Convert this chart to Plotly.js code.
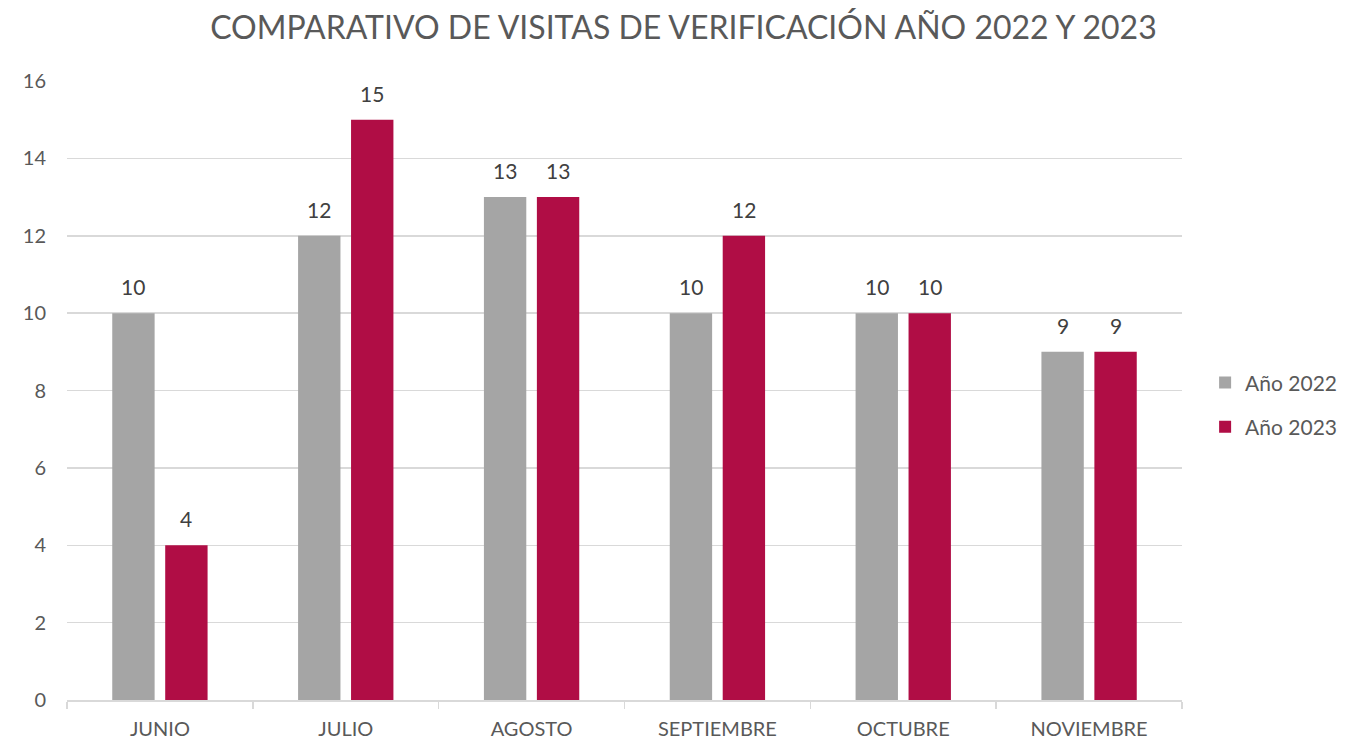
<!DOCTYPE html>
<html><head><meta charset="utf-8">
<script src="https://cdn.plot.ly/plotly-3.0.1.min.js"></script>
<style>html,body{margin:0;padding:0;background:#fff;}#chart{width:1348px;height:744px;}</style>
</head><body><div id="chart"></div>
<script>
const categories = ["JUNIO","JULIO","AGOSTO","SEPTIEMBRE","OCTUBRE","NOVIEMBRE"];
const values2022 = [10,12,13,10,10,9];
const values2023 = [4,15,13,12,10,9];
const seriesNames = ["Año 2022","Año 2023"];
const colors = ["#A5A5A5","#B00D45"];
const FONT = "Lato, 'Open Sans', sans-serif";
const mk = (i, y) => ({
  type:"bar", name:seriesNames[i], x:categories, y:y, legendgroup:"g"+i,
  marker:{color:colors[i]}, hoverinfo:"x+y+name"
});
const data = [mk(0, values2022), mk(1, values2023)];
const annotations = [];
[values2022, values2023].forEach((vals, i) => {
  vals.forEach((v, j) => {
    annotations.push({xref:"x", yref:"y", x:categories[j], y:v, text:String(v), showarrow:false,
      xshift: i === 0 ? -26.5 : 26.5, yshift:12, yanchor:"bottom",
      font:{family:FONT, size:21, color:"#404040"}});
  });
});
const layout = {
  width:1348, height:744,
  paper_bgcolor:"#ffffff", plot_bgcolor:"rgba(0,0,0,0)",
  margin:{l:67, r:166, t:81, b:44},
  title:{text:"COMPARATIVO DE VISITAS DE VERIFICACIÓN AÑO 2022 Y 2023", x:0.507, xanchor:"center", y:0.963, yanchor:"middle",
    font:{family:FONT, size:32, color:"#595959"}},
  barmode:"group", bargap:0.43, bargroupgap:0.2,
  xaxis:{type:"category", showgrid:false, showline:true, linecolor:"#d9d9d9", linewidth:1.5,
    ticks:"outside", tickson:"boundaries", ticklen:7, tickcolor:"#d9d9d9", tickwidth:1.5,
    ticklabelstandoff:10, automargin:false,
    tickfont:{family:FONT,size:20,color:"#595959"}, fixedrange:true},
  yaxis:{range:[0,16], dtick:2, showgrid:true, gridcolor:"#d9d9d9", gridwidth:1.5, zeroline:false,
    showline:false, ticks:"", ticklabelstandoff:20, automargin:false,
    tickfont:{family:FONT,size:20,color:"#595959"}, fixedrange:true},
  legend:{xref:"container", yref:"container", x:0.894, xanchor:"left", y:0.456, yanchor:"middle",
    font:{family:FONT,size:21,color:"#595959"}, itemwidth:30, tracegroupgap:14, bgcolor:"rgba(0,0,0,0)"},
  annotations:annotations,
  showlegend:true
};
Plotly.newPlot("chart", data, layout, {displayModeBar:false, staticPlot:true});
</script></body></html>
